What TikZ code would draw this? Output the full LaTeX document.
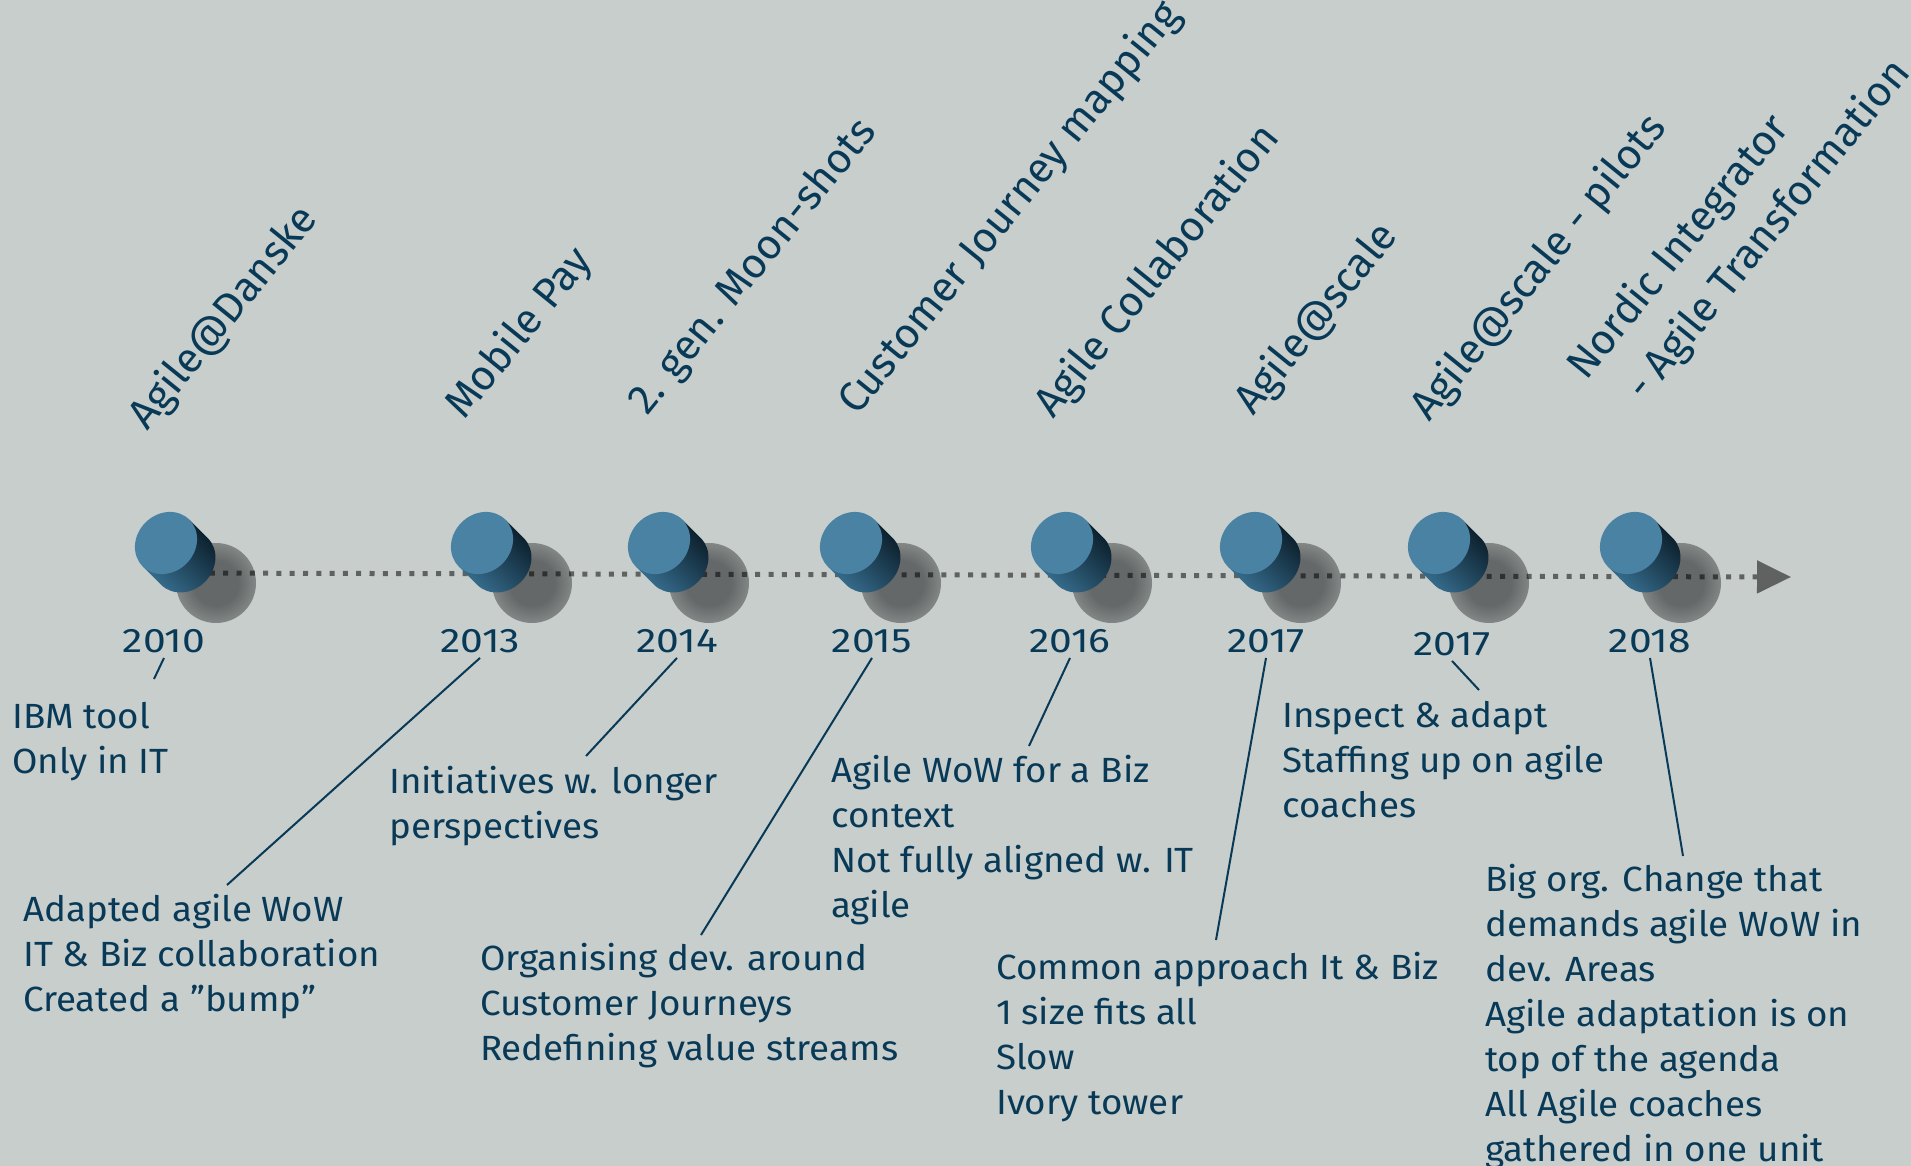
\documentclass[tikz,border=0pt]{standalone}
\usepackage{fontspec}
\setmainfont[FakeStretch=1.05]{Fira Sans}
\newfontfamily\yearfont[FakeStretch=1.2]{Fira Sans}
\newfontfamily\titlefont{Fira Sans}
\usepackage{tikz}
\usetikzlibrary{arrows.meta}
\usetikzlibrary{positioning}
\usetikzlibrary{calc}

\definecolor{bgcol}{RGB}{200,206,203}
\definecolor{txtcol}{RGB}{8,58,88}
\definecolor{shadowcol}{RGB}{100,104,104}
\definecolor{facecol}{RGB}{74,130,163}
\definecolor{bodydark}{RGB}{10,28,40}
\definecolor{bodylight}{RGB}{56,112,145}
\pgfdeclareradialshading{softshadow}{\pgfpoint{0bp}{0bp}}{color(0bp)=(shadowcol); color(14bp)=(shadowcol); color(50bp)=(bgcol)}

\begin{document}
\begin{tikzpicture}[x=1pt,y=-1pt]
          \fill[bgcol] (0,0) rectangle (1911,1166);
          \useasboundingbox (0,0) rectangle (1911,1166);
          \foreach \n/\x in {c10/166,c13/482,c14/659,c15/851,c16/1062,c17a/1251,c17b/1439,c18/1631}
            \coordinate (\n) at (\x,543);
          \foreach \n in {c10,c13,c14,c15,c16,c17a,c17b,c18}
            \shade[shading=softshadow] ($(\n)+(50,40)$) circle (40pt);
          \coordinate (tl0) at (170,573);
          \coordinate (tl1) at (1791,577);
          \begin{scope}[transparency group, opacity=0.52]
            \draw[black, line width=5pt, dash pattern=on 5pt off 8.3pt,
                  -{Triangle[length=34pt,width=32pt]}] (tl0) -- (tl1);
          \end{scope}
          \foreach \n in {c10,c13,c14,c15,c16,c17a,c17b,c18} {
            \begin{scope}[shift={(\n)}, rotate=-45]
              \shade[top color=bodydark, bottom color=bodylight, shading angle=-45]
                (0pt,33pt) -- (26pt,33pt) arc[start angle=90, end angle=-90, x radius=29pt, y radius=33pt]
                -- (0pt,-33pt) -- cycle;
              \fill[facecol] (0pt,0pt) ellipse[x radius=29pt, y radius=33pt];
            \end{scope}
          }
          \begin{scope}[every node/.style={font=\titlefont\fontsize{42}{48}\selectfont, text=txtcol, inner sep=0pt, anchor=base west, rotate=51}]
            \node (t10) at (147,432) {Agile@Danske};
            \node (t13) at (464,421) {Mobile Pay};
            \node (t14) at (647,417) {2. gen. Moon-shots};
            \node (t15) at (857,417) {Customer Journey mapping};
            \node (t16) at (1053,420) {Agile Collaboration};
            \node (t17a) at (1253,417) {Agile@scale};
            \node (t17b) at (1429,423) {Agile@scale - pilots};
            \node (t18) at (1586,382) {Nordic Integrator};
            \node (t18b) at (1645,403) {- Agile Transformation};
          \end{scope}
          \begin{scope}[every node/.style={font=\yearfont\fontsize{34}{40}\selectfont, text=txtcol, inner sep=5pt}]
            \node (y10) at (164,641) {2010};
            \node (y13) at (480,641) {2013};
            \node (y14) at (677,641) {2014};
            \node (y15) at (872,641) {2015};
            \node (y16) at (1070,641) {2016};
            \node (y17a) at (1266,641) {2017};
            \node (y17b) at (1452,644) {2017};
            \node (y18) at (1650,641) {2018};
          \end{scope}
          \begin{scope}[every node/.style={font=\fontsize{35}{45}\selectfont, text=txtcol, align=left, inner sep=0pt, anchor=north west}]
            \node (b10) at (12,702) {IBM tool\\Only in IT};
            \node (b13) at (23,894) {Adapted agile WoW\\IT \& Biz collaboration\\Created a ”bump”};
            \node (b14) at (389,766) {Initiatives w. longer\\perspectives};
            \node (b15) at (480,943) {Organising dev. around\\Customer Journeys\\Redefining value streams};
            \node (b16) at (831,755) {Agile WoW for a Biz\\context\\Not fully aligned w. IT\\agile};
            \node (b17a) at (996,952) {Common approach It \& Biz\\1 size fits all\\Slow\\Ivory tower};
            \node (b17b) at (1282,701) {Inspect \& adapt\\Staffing up on agile\\coaches};
            \node (b18) at (1485,864) {Big org. Change that\\demands agile WoW in\\dev. Areas\\Agile adaptation is on\\top of the agenda\\All Agile coaches\\gathered in one unit};
          \end{scope}
          \coordinate (e10) at (154,679);
          \coordinate (e13) at (227,885);
          \coordinate (e14) at (586,756);
          \coordinate (e15) at (701,935);
          \coordinate (e16) at (1029,746);
          \coordinate (e17a) at (1216,940);
          \coordinate (e17b) at (1479,690);
          \coordinate (e18) at (1683,856);
          \begin{scope}[every edge/.style={draw=txtcol, line width=2pt}]
            \path (y10.south) edge (e10);
            \path (y13.south) edge (e13);
            \path (y14.south) edge (e14);
            \path (y15.south) edge (e15);
            \path (y16.south) edge (e16);
            \path (y17a.south) edge (e17a);
            \path (y17b.south) edge (e17b);
            \path (y18.south) edge (e18);
          \end{scope}
        \end{tikzpicture}
\end{document}
